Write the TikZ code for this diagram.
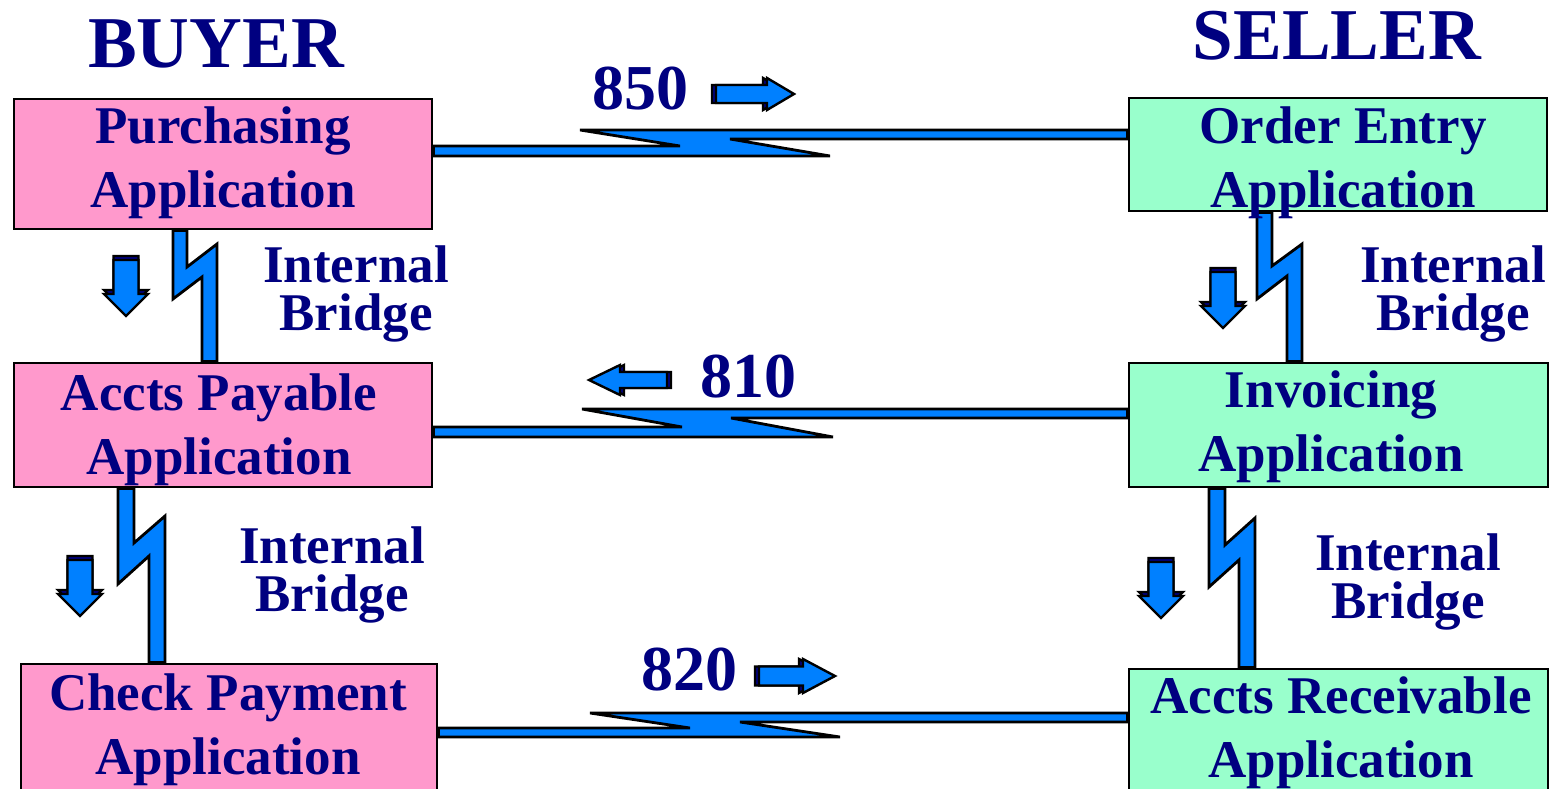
\documentclass[tikz,border=0pt]{standalone}
\usepackage{fontspec}
\setmainfont{Liberation Serif}
\usetikzlibrary{backgrounds}

\definecolor{navytext}{RGB}{0,0,128}
\definecolor{buyerpink}{RGB}{255,153,204}
\definecolor{sellergreen}{RGB}{153,255,204}
\definecolor{boltblue}{RGB}{0,128,255}

\begin{document}
\begin{tikzpicture}[x=1pt, y=-1pt,
    title/.style={text=navytext, anchor=base, font=\fontsize{73}{80}\selectfont\bfseries},
    appbox/.style={draw=black, line width=2.8pt, inner sep=0pt, minimum width=418pt},
    apptext/.style={text=navytext, align=center, inner sep=0pt, font=\fontsize{53}{64}\selectfont\bfseries},
    bridge/.style={text=navytext, align=center, inner sep=0pt, font=\fontsize{53}{48}\selectfont\bfseries},
    msg/.style={text=navytext, anchor=base, font=\fontsize{64}{70}\selectfont\bfseries},
    bolt/.style={fill=boltblue, draw=black, line width=2.8pt, line join=miter},
    pics/blockarr/.style args={#1/#2/#3/#4}{code={
      \foreach \s/\c in {-4/navytext,0/boltblue}
        \draw[shift={(\s,0)}, fill=\c, draw=black, line width=2.4pt]
          (0,-#2) -- (#1,-#2) -- (#1,-#3) -- (#1+#4,0) -- (#1,#3) -- (#1,#2) -- (0,#2) -- cycle;
    }}]
  \useasboundingbox (0,0) rectangle (1556,789);

  %% titles
  \node[title] (buyer) at (216,68) {BUYER};
  \node[title] (seller) at (1337,60) {SELLER};

  %% application boxes
  \node[appbox, fill=buyerpink, minimum height=130pt] (purch) at (223,164) {};
  \node[appbox, fill=sellergreen, minimum height=113pt] (oentry) at (1338,154.5) {};
  \node[appbox, fill=buyerpink, minimum height=124pt] (payable) at (223,425) {};
  \node[appbox, fill=sellergreen, minimum width=419pt, minimum height=124pt] (invoice) at (1338.5,425) {};
  \node[appbox, fill=buyerpink, minimum width=416pt, minimum height=131pt] (check) at (229,729.5) {};
  \node[appbox, fill=sellergreen, minimum width=419pt, minimum height=127pt] (receiv) at (1338.5,732.5) {};

  \node[apptext] (purch-t) at (223,162.5) {Purchasing\\Application};
  \node[apptext] (oentry-t) at (1343,162.5) {Order Entry\\Application};
  \node[apptext] (payable-t) at (219,429.5) {Accts Payable\\Application};
  \node[apptext] (invoice-t) at (1331,426.5) {Invoicing\\Application};
  \node[apptext] (check-t) at (228,729.5) {Check Payment\\Application};
  \node[apptext] (receiv-t) at (1341,732.5) {Accts Receivable\\Application};

  \node[bridge] (bridge-b1) at (356,294) {Internal\\Bridge};
  \node[bridge] (bridge-b2) at (332,575) {Internal\\Bridge};
  \node[bridge] (bridge-s1) at (1453,294) {Internal\\Bridge};
  \node[bridge] (bridge-s2) at (1408,582) {Internal\\Bridge};

  %% transaction sets
  \node[msg] (ts850) at (640,110) {850};
  \node[msg] (ts810) at (748,397) {810};
  \node[msg] (ts820) at (689,690) {820};

  \pic (arr850) at (716,94) {blockarr=51/9/16/27};
  \pic[rotate=180] (arr810) at (667,380) {blockarr=47/8/15/31};
  \pic (arr820) at (759,676) {blockarr=44/9.5/17/32};
  \pic[rotate=-90] (arrb1) at (126,260) {blockarr=34/12.5/22/22};
  \pic[rotate=-90] (arrb2) at (80,560) {blockarr=34/12.5/22/22};
  \pic[rotate=-90] (arrs1) at (1223,272) {blockarr=34/12.5/22/22};
  \pic[rotate=-90] (arrs2) at (1161,562) {blockarr=34/12.5/22/22};

  %% lightning links
  \begin{scope}[on background layer]
    \draw[bolt] (purch.east |- 0,146) -- (680,146) -- (580,130) -- (oentry.west |- 0,130)
      -- (oentry.west |- 0,139) -- (730,139) -- (830,156) -- (purch.east |- 0,156) -- cycle;
    \draw[bolt] (payable.east |- 0,427) -- (682,427) -- (582,409) -- (invoice.west |- 0,409)
      -- (invoice.west |- 0,418) -- (731,418) -- (833,437) -- (payable.east |- 0,437) -- cycle;
    \draw[bolt] (check.east |- 0,728) -- (690,728) -- (590,713) -- (receiv.west |- 0,713)
      -- (receiv.west |- 0,722) -- (740,722) -- (840,737) -- (check.east |- 0,737) -- cycle;

    \draw[bolt] (purch.south -| 173,0) -- (173,299) -- (202,277) -- (payable.north -| 202,0)
      -- (payable.north -| 217,0) -- (217,244) -- (187,267) -- (purch.south -| 187,0) -- cycle;
    \draw[bolt] (payable.south -| 118,0) -- (118,584) -- (149,556) -- (check.north -| 149,0)
      -- (check.north -| 165,0) -- (165,516) -- (134,543) -- (payable.south -| 134,0) -- cycle;
    \draw[bolt] (oentry.south -| 1257,0) -- (1257,299) -- (1287,276) -- (invoice.north -| 1287,0)
      -- (invoice.north -| 1302,0) -- (1302,244) -- (1272,266) -- (oentry.south -| 1272,0) -- cycle;
    \draw[bolt] (invoice.south -| 1209,0) -- (1209,587) -- (1239,560) -- (receiv.north -| 1239,0)
      -- (receiv.north -| 1255,0) -- (1255,518) -- (1225,545) -- (invoice.south -| 1225,0) -- cycle;
  \end{scope}
\end{tikzpicture}
\end{document}
